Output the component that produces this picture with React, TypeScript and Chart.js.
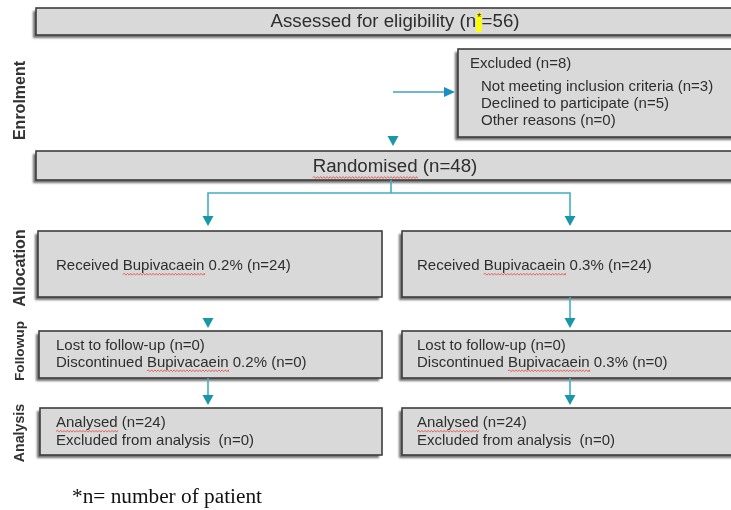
import React, { useEffect, useRef } from 'react';
import { Chart, registerables } from 'chart.js';

Chart.register(...registerables);

// ---------------- data ----------------
const stageLabels = ['Enrolment', 'Allocation', 'Followup', 'Analysis'];
const assessedCount = 56;
const excludedCount = 8;
const exclusionReasons = ['Not meeting inclusion criteria', 'Declined to participate', 'Other reasons'];
const exclusionCounts = [3, 5, 0];
const randomisedCount = 48;
const groupNames = ['Bupivacaein 0.2%', 'Bupivacaein 0.3%'];
const allocatedCounts = [24, 24];
const lostCounts = [0, 0];
const discontinuedCounts = [0, 0];
const analysedCounts = [24, 24];
const excludedAnalysisCounts = [0, 0];
const footnoteText = '*n= number of patient';

// ---------------- layout (diagram units = px of the 731x510 frame) ----------------
const W = 731;
const H = 510;
const lay = {
  top: { x1: 36, y1: 8, x2: 745, y2: 35 },
  excl: { x1: 458, y1: 49, x2: 745, y2: 137 },
  rand: { x1: 36, y1: 151, x2: 745, y2: 180 },
  alloc: [
    { x1: 38, y1: 231, x2: 382, y2: 297 },
    { x1: 402, y1: 231, x2: 745, y2: 297 },
  ],
  follow: [
    { x1: 39, y1: 331, x2: 382, y2: 378 },
    { x1: 402, y1: 331, x2: 745, y2: 378 },
  ],
  anal: [
    { x1: 40, y1: 408, x2: 382, y2: 455 },
    { x1: 402, y1: 408, x2: 745, y2: 455 },
  ],
  colX: [208, 570],
  textX: [56, 417],
  mainX: 393,
  stageY: [100.5, 268, 351, 433],
  stageSize: [16, 16, 13.7, 14.2],
};

const SANS = '"Liberation Sans", Arial, Helvetica, sans-serif';
const SERIF = '"Liberation Serif", "Times New Roman", serif';
const BOX_FILL = '#d9d9d9';
const BOX_EDGE = '#3d3d3d';
const TEXT = '#2e2e2e';
const TEAL_LINE = '#41aec0';
const TEAL_HEAD = '#1897a9';
const BLUE_LINE = '#3f9fca';
const BLUE_HEAD = '#1b8fc2';
const SQUIGGLE = '#e5463f';

type Box = { x1: number; y1: number; x2: number; y2: number };

const flowPlugin = {
  id: 'consortFlow',
  afterDraw(chart: any) {
    const ctx: CanvasRenderingContext2D = chart.ctx;
    const xs = chart.scales.x;
    const ys = chart.scales.y;
    const X = (v: number) => xs.getPixelForValue(v);
    const Y = (v: number) => ys.getPixelForValue(v);

    const drawBox = (b: Box) => {
      const x = X(b.x1), y = Y(b.y1), w = X(b.x2) - x, h = Y(b.y2) - y;
      ctx.save();
      ctx.shadowColor = 'rgba(80,80,80,0.8)';
      ctx.shadowOffsetX = -3;
      ctx.shadowOffsetY = 3;
      ctx.shadowBlur = 2;
      ctx.fillStyle = BOX_FILL;
      ctx.fillRect(x, y, w, h);
      ctx.restore();
      ctx.save();
      ctx.strokeStyle = BOX_EDGE;
      ctx.lineWidth = 1.6;
      ctx.strokeRect(x, y, w, h);
      ctx.restore();
    };

    const squiggle = (x0: number, x1: number, y: number) => {
      ctx.save();
      ctx.strokeStyle = SQUIGGLE;
      ctx.lineWidth = 0.8;
      ctx.beginPath();
      ctx.moveTo(x0, y);
      let up = true;
      for (let x = x0; x < x1; x += 1.6) {
        ctx.lineTo(Math.min(x + 1.6, x1), y + (up ? -0.9 : 0.9));
        up = !up;
      }
      ctx.stroke();
      ctx.restore();
    };

    const text = (s: string, x: number, y: number, size: number, align: CanvasTextAlign = 'left', bold = false) => {
      ctx.save();
      ctx.font = `${bold ? 'bold ' : ''}${size}px ${SANS}`;
      ctx.fillStyle = TEXT;
      ctx.textAlign = align;
      ctx.textBaseline = 'middle';
      ctx.fillText(s, X(x), Y(y));
      ctx.restore();
    };

    // text with a red spell-check underline below one word
    const textMarked = (s: string, word: string, x: number, y: number, size: number) => {
      text(s, x, y, size);
      const i = s.indexOf(word);
      if (i < 0) return;
      ctx.save();
      ctx.font = `${size}px ${SANS}`;
      const x0 = X(x) + ctx.measureText(s.slice(0, i)).width;
      const x1 = x0 + ctx.measureText(word).width;
      ctx.restore();
      squiggle(x0, x1, Y(y) + size * 0.55);
    };

    const poly = (pts: number[][], color: string) => {
      ctx.save();
      ctx.strokeStyle = color;
      ctx.lineWidth = 1.6;
      ctx.beginPath();
      pts.forEach((p, k) => (k ? ctx.lineTo(X(p[0]), Y(p[1])) : ctx.moveTo(X(p[0]), Y(p[1]))));
      ctx.stroke();
      ctx.restore();
    };

    const headDown = (x: number, tip: number, color: string) => {
      ctx.save();
      ctx.fillStyle = color;
      ctx.beginPath();
      ctx.moveTo(X(x), Y(tip));
      ctx.lineTo(X(x - 5.5), Y(tip - 10));
      ctx.lineTo(X(x + 5.5), Y(tip - 10));
      ctx.closePath();
      ctx.fill();
      ctx.restore();
    };

    const headRight = (tip: number, y: number, color: string) => {
      ctx.save();
      ctx.fillStyle = color;
      ctx.beginPath();
      ctx.moveTo(X(tip), Y(y));
      ctx.lineTo(X(tip - 11), Y(y - 5));
      ctx.lineTo(X(tip - 11), Y(y + 5));
      ctx.closePath();
      ctx.fill();
      ctx.restore();
    };

    // ---- boxes ----
    drawBox(lay.top);
    drawBox(lay.excl);
    drawBox(lay.rand);
    lay.alloc.forEach(drawBox);
    lay.follow.forEach(drawBox);
    lay.anal.forEach(drawBox);

    // ---- top box text with highlighted asterisk ----
    {
      const size = 18.7;
      const a = 'Assessed for eligibility (n';
      const star = '*';
      const b = `=${assessedCount})`;
      ctx.save();
      ctx.font = `${size}px ${SANS}`;
      const wa = ctx.measureText(a).width;
      const ws = ctx.measureText(star).width * 0.75;
      const wb = ctx.measureText(b).width;
      const total = wa + ws + wb;
      const cx = X(395);
      const cy = Y(22);
      const sx = cx - total / 2;
      ctx.fillStyle = '#ffff00';
      ctx.fillRect(sx + wa, Y(13), ws, Y(32) - Y(13));
      ctx.fillStyle = TEXT;
      ctx.textBaseline = 'middle';
      ctx.textAlign = 'left';
      ctx.fillText(a, sx, cy);
      ctx.font = `${size * 0.6}px ${SANS}`;
      ctx.fillText(star, sx + wa + ws * 0.15, cy - 4);
      ctx.font = `${size}px ${SANS}`;
      ctx.fillText(b, sx + wa + ws, cy);
      ctx.restore();
    }

    // ---- excluded box ----
    text(`Excluded (n=${excludedCount})`, 470, 64, 15);
    exclusionReasons.forEach((r, i) => {
      text(`${r} (n=${exclusionCounts[i]})`, 481, 87 + i * 16.7, 15);
    });

    // ---- randomised ----
    {
      const size = 18.7;
      const s = `Randomised (n=${randomisedCount})`;
      ctx.save();
      ctx.font = `${size}px ${SANS}`;
      const w = ctx.measureText(s).width;
      const wr = ctx.measureText('Randomised').width;
      ctx.restore();
      const x0 = 395 - w / 2;
      text(s, x0, 166.5, size);
      squiggle(X(x0), X(x0) + wr, Y(166.5) + 11);
    }

    // ---- group boxes ----
    groupNames.forEach((g, i) => {
      const tx = lay.textX[i];
      textMarked(`Received ${g} (n=${allocatedCounts[i]})`, 'Bupivacaein', tx, 266, 15);
      text(`Lost to follow-up (n=${lostCounts[i]})`, tx, 346, 15);
      textMarked(`Discontinued ${g} (n=${discontinuedCounts[i]})`, 'Bupivacaein', tx, 362.5, 15);
      textMarked(`Analysed (n=${analysedCounts[i]})`, 'Analysed', tx, 423, 15);
      text(`Excluded from analysis  (n=${excludedAnalysisCounts[i]})`, tx, 441, 15);
    });

    // ---- connectors ----
    poly([[lay.mainX, 92], [444, 92]], BLUE_LINE);
    headRight(455, 92, BLUE_HEAD);
    headDown(lay.mainX, 146, TEAL_HEAD);

    poly([[391, 180], [391, 193]], TEAL_LINE);
    poly([[lay.colX[0], 216], [lay.colX[0], 193], [lay.colX[1], 193], [lay.colX[1], 216]], TEAL_LINE);
    headDown(lay.colX[0], 226, TEAL_HEAD);
    headDown(lay.colX[1], 226, TEAL_HEAD);

    headDown(lay.colX[0], 328, TEAL_HEAD);
    poly([[lay.colX[1], 297], [lay.colX[1], 318]], TEAL_LINE);
    headDown(lay.colX[1], 328, TEAL_HEAD);

    lay.colX.forEach((cx) => {
      poly([[cx, 378], [cx, 395]], TEAL_LINE);
      headDown(cx, 405, TEAL_HEAD);
    });

    // ---- stage labels (rotated) ----
    stageLabels.forEach((s, i) => {
      ctx.save();
      ctx.translate(X(20.5), Y(lay.stageY[i]));
      ctx.rotate(-Math.PI / 2);
      ctx.font = `bold ${lay.stageSize[i]}px ${SANS}`;
      ctx.fillStyle = '#333333';
      ctx.textAlign = 'center';
      ctx.textBaseline = 'middle';
      ctx.fillText(s, 0, 0);
      ctx.restore();
    });

    // ---- footnote ----
    ctx.save();
    ctx.font = `21.3px ${SERIF}`;
    ctx.fillStyle = '#111111';
    ctx.textAlign = 'left';
    ctx.textBaseline = 'alphabetic';
    ctx.fillText(footnoteText, X(72), Y(503));
    ctx.restore();
  },
};

export default function App() {
  const ref = useRef<HTMLCanvasElement | null>(null);

  useEffect(() => {
    if (!ref.current) return;
    const chart = new Chart(ref.current, {
      type: 'scatter',
      data: { datasets: [{ data: [], pointRadius: 0 }] },
      options: {
        animation: false,
        responsive: false,
        devicePixelRatio: 1,
        layout: { padding: 0 },
        events: [],
        plugins: { legend: { display: false }, tooltip: { enabled: false } },
        scales: {
          x: { type: 'linear', min: 0, max: W, display: false },
          y: { type: 'linear', min: 0, max: H, reverse: true, display: false },
        },
      },
      plugins: [flowPlugin],
    });
    return () => chart.destroy();
  }, []);

  return (
    <div style={{ position: 'absolute', left: 0, top: 0, width: W, height: H, background: '#ffffff' }}>
      <canvas ref={ref} width={W} height={H} style={{ display: 'block', width: W, height: H }} />
    </div>
  );
}
